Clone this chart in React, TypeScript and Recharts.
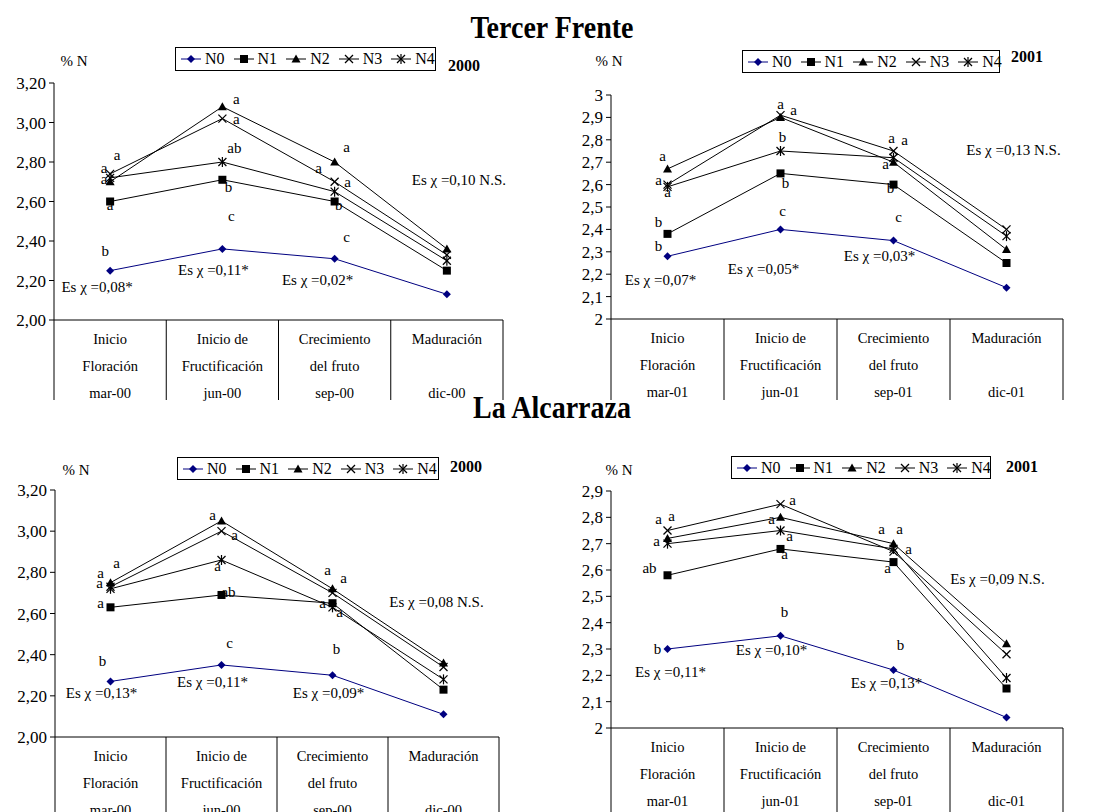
import React from "react"
import { LineChart, Line, XAxis, YAxis, ReferenceDot } from "recharts"

const FONT = '"Liberation Serif", "Times New Roman", serif'
const NAVY = "#000080"

const SERIES = ["N0", "N1", "N2", "N3", "N4"]
const MARKERS = ["diamond", "square", "triangle", "cross", "star"]

const STAGE_TOP = ["Inicio", "Inicio de", "Crecimiento", "Maduración"]
const STAGE_MID = ["Floración", "Fructificación", "del fruto", ""]
const CATS_2000 = ["mar-00", "jun-00", "sep-00", "dic-00"]
const CATS_2001 = ["mar-01", "jun-01", "sep-01", "dic-01"]

const TICKS_020 = [2.0, 2.2, 2.4, 2.6, 2.8, 3.0, 3.2]
const TICKS_TF01 = [2, 2.1, 2.2, 2.3, 2.4, 2.5, 2.6, 2.7, 2.8, 2.9, 3]
const TICKS_LA01 = [2, 2.1, 2.2, 2.3, 2.4, 2.5, 2.6, 2.7, 2.8, 2.9]

// Tercer Frente 2000
const TF00_N0 = [2.25, 2.36, 2.31, 2.13]
const TF00_N1 = [2.6, 2.71, 2.6, 2.25]
const TF00_N2 = [2.7, 3.08, 2.8, 2.36]
const TF00_N3 = [2.74, 3.02, 2.7, 2.33]
const TF00_N4 = [2.72, 2.8, 2.65, 2.3]
const TF00_LETTERS = [
    ["b", "c", "c", ""],
    ["a", "b", "b", ""],
    ["a", "a", "a", ""],
    ["a", "a", "a", ""],
    ["a", "ab", "a", ""],
]
const TF00_ES = ["Es χ =0,08*", "Es χ =0,11*", "Es χ =0,02*", "Es χ =0,10 N.S."]

// Tercer Frente 2001
const TF01_N0 = [2.28, 2.4, 2.35, 2.14]
const TF01_N1 = [2.38, 2.65, 2.6, 2.25]
const TF01_N2 = [2.67, 2.9, 2.7, 2.31]
const TF01_N3 = [2.6, 2.91, 2.75, 2.4]
const TF01_N4 = [2.59, 2.75, 2.72, 2.37]
const TF01_LETTERS = [
    ["b", "c", "c", ""],
    ["b", "b", "b", ""],
    ["a", "a", "a", ""],
    ["a", "a", "a", ""],
    ["a", "b", "a", ""],
]
const TF01_ES = ["Es χ =0,07*", "Es χ =0,05*", "Es χ =0,03*", "Es χ =0,13 N.S."]

// La Alcarraza 2000
const LA00_N0 = [2.27, 2.35, 2.3, 2.11]
const LA00_N1 = [2.63, 2.69, 2.65, 2.23]
const LA00_N2 = [2.75, 3.05, 2.72, 2.36]
const LA00_N3 = [2.73, 3.0, 2.7, 2.34]
const LA00_N4 = [2.72, 2.86, 2.63, 2.28]
const LA00_LETTERS = [
    ["b", "c", "b", ""],
    ["a", "ab", "a", ""],
    ["a", "a", "a", ""],
    ["a", "a", "a", ""],
    ["a", "a", "a", ""],
]
const LA00_ES = ["Es χ =0,13*", "Es χ =0,11*", "Es χ =0,09*", "Es χ =0,08 N.S."]

// La Alcarraza 2001
const LA01_N0 = [2.3, 2.35, 2.22, 2.04]
const LA01_N1 = [2.58, 2.68, 2.63, 2.15]
const LA01_N2 = [2.72, 2.8, 2.7, 2.32]
const LA01_N3 = [2.75, 2.85, 2.67, 2.28]
const LA01_N4 = [2.7, 2.75, 2.68, 2.19]
const LA01_LETTERS = [
    ["b", "b", "b", ""],
    ["ab", "a", "a", ""],
    ["a", "a", "a", ""],
    ["a", "a", "a", ""],
    ["a", "a", "a", ""],
]
const LA01_ES = ["Es χ =0,11*", "Es χ =0,10*", "Es χ =0,13*", "Es χ =0,09 N.S."]

// label placement (pixel offsets from the point they belong to)
type Off = [number, number]
const TF00_LETTER_OFF: Off[][] = [
    [[-5, -20], [9, -33], [12, -22], [0, 0]],
    [[0, 3], [6, 7], [4, 3], [0, 0]],
    [[-6, -3], [14, -8], [12, -15], [0, 0]],
    [[7, -19], [14, 0], [13, 0], [0, 0]],
    [[-6, -10], [12, -14], [-16, -24], [0, 0]],
]
const TF00_ES_OFF: Off[] = [[-13, 16], [-9, 21], [-17, 21], [12, -69]]
const TF01_LETTER_OFF: Off[][] = [
    [[-9, -10], [2, -18], [5, -24], [0, 0]],
    [[-9, -12], [5, 10], [-3, 3], [0, 0]],
    [[-5, -13], [13, -7], [-8, 2], [0, 0]],
    [[-9, -5], [0, -11], [-2, -13], [0, 0]],
    [[0, 5], [2, -14], [11, -18], [0, 0]],
]
const TF01_ES_OFF: Off[] = [[-7, 24], [-17, 40], [-14, 15], [7, -79]]
const LA00_LETTER_OFF: Off[][] = [
    [[-8, -20], [8, -22], [4, -26], [0, 0]],
    [[-10, -4], [7, -3], [-10, 0], [0, 0]],
    [[6, -20], [-9, -6], [-5, -19], [0, 0]],
    [[-10, -14], [13, 4], [11, -15], [0, 0]],
    [[-11, -6], [-4, 6], [7, 5], [0, 0]],
]
const LA00_ES_OFF: Off[] = [[-9, 12], [-9, 17], [-4, 18], [-7, -61]]
const LA01_LETTER_OFF: Off[][] = [
    [[-10, 0], [4, -24], [7, -25], [0, 0]],
    [[-18, -7], [4, 5], [-6, 6], [0, 0]],
    [[-9, -19], [-9, 2], [-12, -15], [0, 0]],
    [[4, -15], [12, -4], [6, -23], [0, 0]],
    [[-11, -3], [9, 5], [15, 0], [0, 0]],
]
const LA01_ES_OFF: Off[] = [[3, 23], [-9, 14], [-7, 13], [-9, -65]]

function Marker({ kind, cx, cy, color }: { kind: string; cx: number; cy: number; color: string }) {
    if (cx == null || cy == null) return null
    switch (kind) {
        case "diamond":
            return <polygon points={`${cx},${cy - 4} ${cx + 4},${cy} ${cx},${cy + 4} ${cx - 4},${cy}`} fill={color} />
        case "square":
            return <rect x={cx - 4} y={cy - 4} width={8} height={8} fill={color} />
        case "triangle":
            return <polygon points={`${cx},${cy - 4.5} ${cx + 4.5},${cy + 3.5} ${cx - 4.5},${cy + 3.5}`} fill={color} />
        case "cross":
            return (
                <g stroke={color} strokeWidth={1.2}>
                    <line x1={cx - 4} y1={cy - 4} x2={cx + 4} y2={cy + 4} />
                    <line x1={cx - 4} y1={cy + 4} x2={cx + 4} y2={cy - 4} />
                </g>
            )
        default:
            return (
                <g stroke={color} strokeWidth={1.2}>
                    <line x1={cx - 4} y1={cy - 4} x2={cx + 4} y2={cy + 4} />
                    <line x1={cx - 4} y1={cy + 4} x2={cx + 4} y2={cy - 4} />
                    <line x1={cx} y1={cy - 5} x2={cx} y2={cy + 5} />
                </g>
            )
    }
}

function LegendBox({ x, y, w, h }: { x: number; y: number; w: number; h: number }) {
    return (
        <div style={{
            position: "absolute", left: x, top: y, width: w, height: h, boxSizing: "border-box",
            border: "1px solid #000", display: "flex", alignItems: "center", paddingLeft: 5,
            fontFamily: FONT, fontSize: 16, background: "#fff",
        }}>
            {SERIES.map((s, i) => (
                <div key={s} style={{ display: "flex", alignItems: "center", marginRight: 9 }}>
                    <svg width={20} height={12}>
                        <line x1={0} y1={6} x2={20} y2={6} stroke={i === 0 ? NAVY : "#000"} strokeWidth={1} />
                        <Marker kind={MARKERS[i]} cx={10} cy={6} color={i === 0 ? NAVY : "#000"} />
                    </svg>
                    <span style={{ marginLeft: 4 }}>{s}</span>
                </div>
            ))}
        </div>
    )
}

function Txt({ x, y, children, size = 15, bold = false, sy = 1 }: any) {
    return (
        <div style={{
            position: "absolute", left: x, top: y, transform: `translate(-50%, -50%) scaleY(${sy})`,
            fontFamily: FONT, fontSize: size, fontWeight: bold ? "bold" : "normal",
            whiteSpace: "nowrap", lineHeight: 1, color: "#000",
        }}>{children}</div>
    )
}

interface PanelCfg {
    x0: number; y0: number; w: number; h: number
    l: number; t: number; r: number; b: number; depth: number
    cats: string[]; series: number[][]; domain: [number, number]; ticks: number[]
    fmt: (v: number) => string
    letters: string[][]; letterOff: Off[][]
    es: string[]; esAnchor: number[]; esOff: Off[]
}

function StageTick({ x, y, payload, cats, bw, depth }: any) {
    const i = cats.indexOf(payload.value)
    return (
        <g fontFamily={FONT} fontSize={14.5} fill="#000">
            <line x1={x - bw / 2} y1={y} x2={x - bw / 2} y2={y + depth} stroke="#000" />
            {i === cats.length - 1 && <line x1={x + bw / 2} y1={y} x2={x + bw / 2} y2={y + depth} stroke="#000" />}
            <text x={x} y={y + 19} textAnchor="middle" dominantBaseline="central">{STAGE_TOP[i]}</text>
            <text x={x} y={y + 46} textAnchor="middle" dominantBaseline="central">{STAGE_MID[i]}</text>
            <text x={x} y={y + 73} textAnchor="middle" dominantBaseline="central">{payload.value}</text>
        </g>
    )
}

function Panel(c: PanelCfg) {
    const data = c.cats.map((cat, i) => {
        const row: any = { cat }
        SERIES.forEach((s, k) => { row[s] = c.series[k][i] })
        return row
    })
    const bw = (c.r - c.l) / c.cats.length
    const notes: any[] = []
    c.letters.forEach((row, k) => row.forEach((txt, i) => {
        if (txt) notes.push({ key: `l${k}${i}`, cat: c.cats[i], v: c.series[k][i], txt, off: c.letterOff[k][i] })
    }))
    c.es.forEach((txt, i) => {
        notes.push({ key: `e${i}`, cat: c.cats[i], v: c.series[c.esAnchor[i]][i], txt, off: c.esOff[i] })
    })
    return (
        <div style={{ position: "absolute", left: c.x0, top: c.y0 }}>
            <LineChart width={c.w} height={c.h} data={data}
                margin={{ top: c.t - c.y0, right: c.x0 + c.w - c.r, bottom: 0, left: 0 }}>
                <XAxis dataKey="cat" type="category" interval={0} height={c.y0 + c.h - c.b}
                    padding={{ left: bw / 2, right: bw / 2 }}
                    axisLine={{ stroke: "#000" }} tickLine={false} tickSize={0} tickMargin={0}
                    tick={<StageTick cats={c.cats} bw={bw} depth={c.depth} />} />
                <YAxis width={c.l - c.x0} domain={c.domain} ticks={c.ticks} interval={0}
                    tickFormatter={c.fmt} axisLine={{ stroke: "#000" }} tickLine={{ stroke: "#000" }}
                    tickSize={5} tickMargin={3}
                    tick={{ fontSize: 17, fill: "#000", fontFamily: FONT }} />
                {SERIES.map((s, k) => (
                    <Line key={s} dataKey={s} stroke={k === 0 ? NAVY : "#000"} strokeWidth={1}
                        isAnimationActive={false}
                        dot={(p: any) => <Marker key={`${s}${p.index}`} kind={MARKERS[k]} cx={p.cx} cy={p.cy} color={k === 0 ? NAVY : "#000"} />}
                        activeDot={false} />
                ))}
                {notes.map((n) => (
                    <ReferenceDot key={n.key} x={n.cat} y={n.v} r={0} ifOverflow="visible"
                        shape={(p: any) => (
                            <text x={p.cx + n.off[0]} y={p.cy + n.off[1]} textAnchor="middle"
                                dominantBaseline="central" fontFamily={FONT} fontSize={15} fill="#000">{n.txt}</text>
                        )} />
                ))}
            </LineChart>
        </div>
    )
}

const fmt2 = (v: number) => v.toFixed(2).replace(".", ",")
const fmt1 = (v: number) => (Math.abs(v - Math.round(v)) < 1e-9 ? String(Math.round(v)) : v.toFixed(1).replace(".", ","))

export default function App() {
    return (
        <div style={{ position: "absolute", left: 0, top: 0, width: 1104, height: 812, background: "#fff", overflow: "hidden" }}>
            <Txt x={552} y={28} size={28} bold sy={1.15}>Tercer Frente</Txt>
            <Txt x={552} y={408} size={28} bold sy={1.15}>La Alcarraza</Txt>

            <Panel x0={0} y0={40} w={552} h={365} l={54} t={83} r={503} b={320} depth={80}
                cats={CATS_2000} series={[TF00_N0, TF00_N1, TF00_N2, TF00_N3, TF00_N4]}
                domain={[2, 3.2]} ticks={TICKS_020} fmt={fmt2}
                letters={TF00_LETTERS} letterOff={TF00_LETTER_OFF}
                es={TF00_ES} esAnchor={[0, 0, 0, 2]} esOff={TF00_ES_OFF} />
            <Panel x0={552} y0={40} w={552} h={365} l={611} t={95} r={1063} b={319} depth={81}
                cats={CATS_2001} series={[TF01_N0, TF01_N1, TF01_N2, TF01_N3, TF01_N4]}
                domain={[2, 3]} ticks={TICKS_TF01} fmt={fmt1}
                letters={TF01_LETTERS} letterOff={TF01_LETTER_OFF}
                es={TF01_ES} esAnchor={[0, 0, 0, 3]} esOff={TF01_ES_OFF} />
            <Panel x0={0} y0={420} w={552} h={392} l={55} t={490} r={499} b={737} depth={80}
                cats={CATS_2000} series={[LA00_N0, LA00_N1, LA00_N2, LA00_N3, LA00_N4]}
                domain={[2, 3.2]} ticks={TICKS_020} fmt={fmt2}
                letters={LA00_LETTERS} letterOff={LA00_LETTER_OFF}
                es={LA00_ES} esAnchor={[0, 0, 0, 2]} esOff={LA00_ES_OFF} />
            <Panel x0={552} y0={420} w={552} h={392} l={611} t={491} r={1063} b={728} depth={84}
                cats={CATS_2001} series={[LA01_N0, LA01_N1, LA01_N2, LA01_N3, LA01_N4]}
                domain={[2, 2.9]} ticks={TICKS_LA01} fmt={fmt1}
                letters={LA01_LETTERS} letterOff={LA01_LETTER_OFF}
                es={LA01_ES} esAnchor={[0, 0, 0, 2]} esOff={LA01_ES_OFF} />

            <Txt x={74} y={61}>% N</Txt>
            <Txt x={609} y={61}>% N</Txt>
            <Txt x={76} y={470}>% N</Txt>
            <Txt x={619} y={470}>% N</Txt>
            <Txt x={464} y={66} size={16} bold>2000</Txt>
            <Txt x={1027} y={57} size={16} bold>2001</Txt>
            <Txt x={466} y={467} size={16} bold>2000</Txt>
            <Txt x={1022} y={467} size={16} bold>2001</Txt>
            <LegendBox x={175} y={47} w={261} h={24} />
            <LegendBox x={742} y={50} w={258} h={23} />
            <LegendBox x={177} y={457} w={262} h={23} />
            <LegendBox x={731} y={456} w={260} h={23} />
        </div>
    )
}
